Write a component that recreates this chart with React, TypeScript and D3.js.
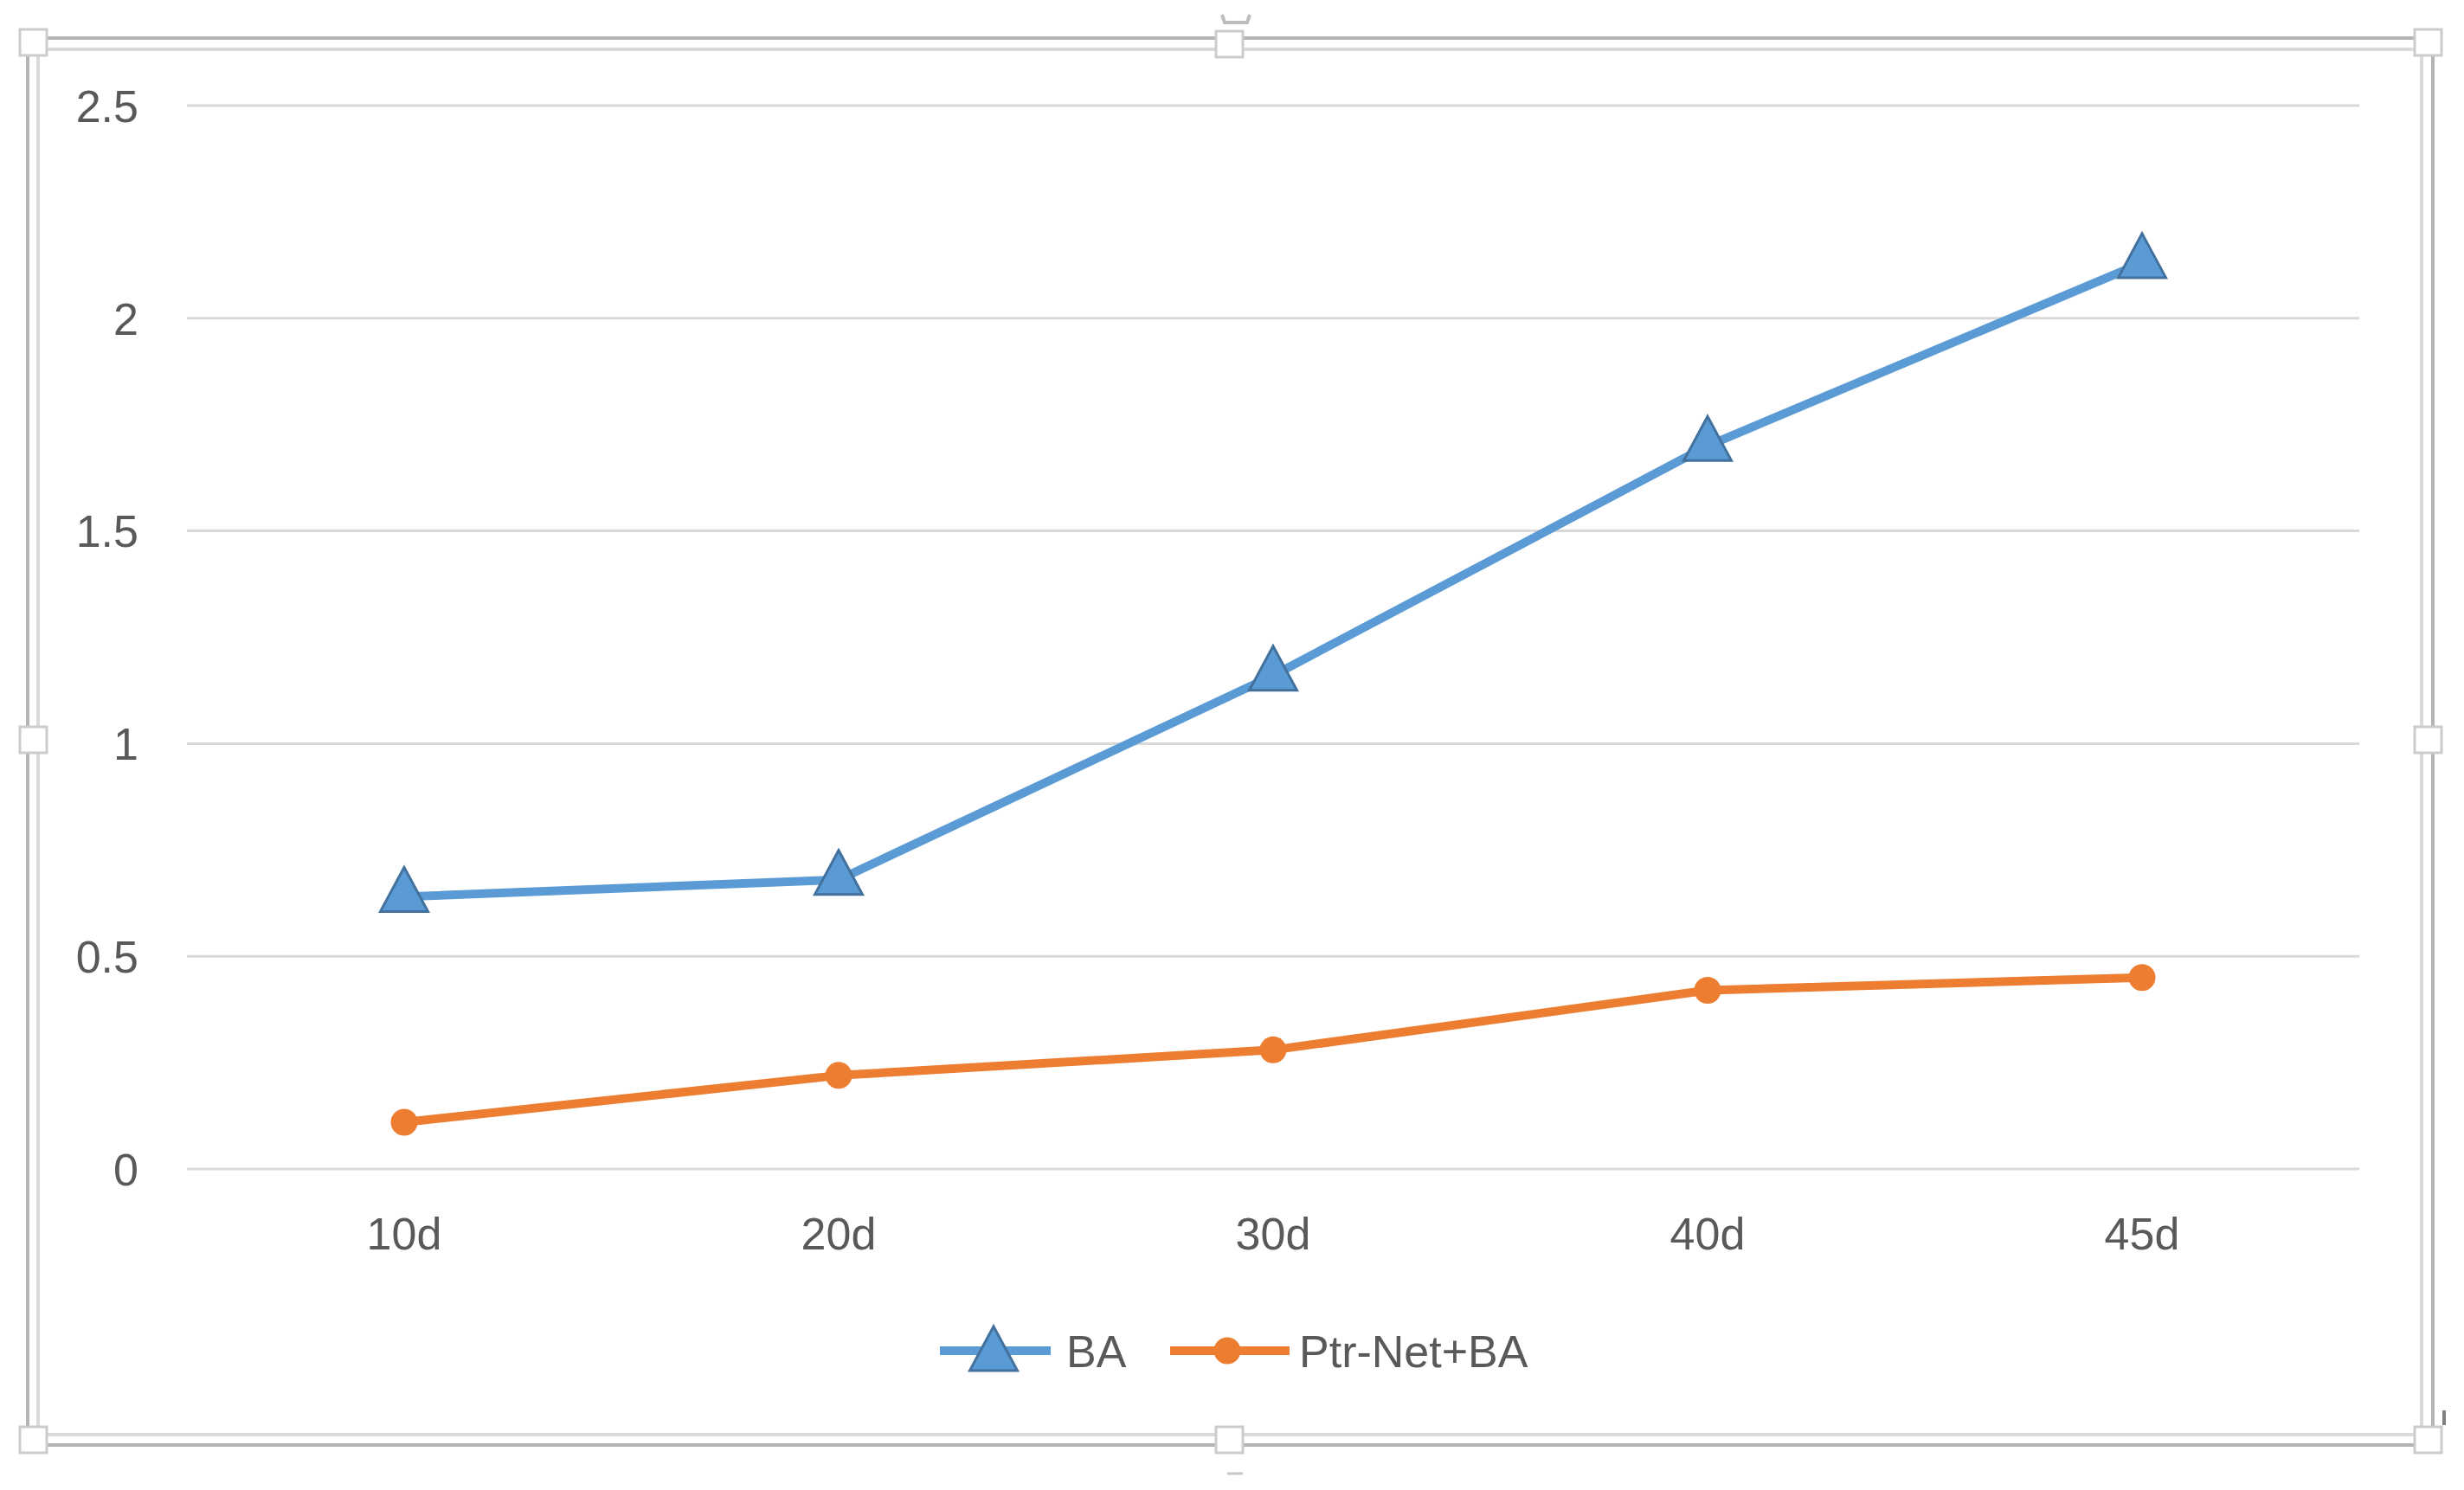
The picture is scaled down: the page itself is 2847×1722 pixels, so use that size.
import React from "react";
import * as d3 from "d3";

const categories = ["10d", "20d", "30d", "40d", "45d"];
const baValues = [0.64, 0.68, 1.16, 1.7, 2.13];
const ptrValues = [0.11, 0.22, 0.28, 0.42, 0.45];
const yTicks = [0, 0.5, 1, 1.5, 2, 2.5];
const seriesNames = ["BA", "Ptr-Net+BA"];

const W = 2847;
const H = 1722;
const FONT = "'Liberation Sans', Arial, sans-serif";
const TEXT = "#595959";
const BLUE = "#5B9BD5";
const BLUE_DARK = "#41719C";
const ORANGE = "#ED7D31";

function triPath(cx: number, cy: number) {
  return `M${cx},${cy - 34}L${cx + 27.5},${cy + 17}L${cx - 27.5},${cy + 17}Z`;
}

export default function App() {
  const x = d3.scalePoint<string>().domain(categories).range([216, 2726]).padding(0.5);
  const y = d3.scaleLinear().domain([0, 2.5]).range([1351, 122]);
  const line = d3
    .line<number>()
    .x((_, i) => x(categories[i]) as number)
    .y((d) => y(d));

  const handles = [
    [38, 49], [1420, 51], [2805, 49],
    [38, 855], [2805, 855],
    [38, 1664], [1420, 1664], [2805, 1664],
  ];

  const legY = 1561;

  return (
    <svg
      width={W}
      height={H}
      style={{ position: "absolute", left: 0, top: 0, background: "#fff" }}
      fontFamily={FONT}
    >
      <rect x={0} y={0} width={W} height={H} fill="#fff" />
      <rect x={32} y={44} width={2779} height={1626} fill="none" stroke="#B4B4B4" strokeWidth={4} />
      <rect x={44} y={57} width={2754} height={1601} fill="none" stroke="#D9D9D9" strokeWidth={4} />
      {handles.map(([hx, hy], i) => (
        <rect key={i} x={hx - 15} y={hy - 15} width={31} height={30} fill="#fff" stroke="#CCCCCC" strokeWidth={3} />
      ))}
      <path d="M1412,17 L1415,26 L1441,26 L1444,17" fill="none" stroke="#BDBDBD" strokeWidth={4} />
      <line x1={1418} x2={1436} y1={1703} y2={1703} stroke="#C8C8C8" strokeWidth={3} />
      <rect x={2822} y={1630} width={4} height={17} fill="#808080" />

      {yTicks.map((t) => (
        <line key={t} x1={216} x2={2726} y1={y(t)} y2={y(t)} stroke="#D9D9D9" strokeWidth={3} />
      ))}
      {yTicks.map((t) => (
        <text key={"l" + t} x={160} y={y(t)} dy="0.36em" textAnchor="end" fontSize={52} fill={TEXT}>
          {String(t)}
        </text>
      ))}
      {categories.map((c) => (
        <text key={c} x={x(c)} y={1444} textAnchor="middle" fontSize={52} fill={TEXT}>
          {c}
        </text>
      ))}

      <path d={line(ptrValues) as string} fill="none" stroke={ORANGE} strokeWidth={10} strokeLinejoin="round" />
      {ptrValues.map((v, i) => (
        <circle key={i} cx={x(categories[i])} cy={y(v)} r={15.5} fill={ORANGE} />
      ))}
      <path d={line(baValues) as string} fill="none" stroke={BLUE} strokeWidth={10} strokeLinejoin="round" />
      {baValues.map((v, i) => (
        <path key={i} d={triPath(x(categories[i]) as number, y(v))} fill={BLUE} stroke={BLUE_DARK} strokeWidth={3} />
      ))}

      <line x1={1086} x2={1214} y1={legY} y2={legY} stroke={BLUE} strokeWidth={10} />
      <path d={triPath(1148, legY + 6)} fill={BLUE} stroke={BLUE_DARK} strokeWidth={3} />
      <text x={1232} y={legY} dy="0.36em" fontSize={52} fill={TEXT}>{seriesNames[0]}</text>
      <line x1={1352} x2={1490} y1={legY} y2={legY} stroke={ORANGE} strokeWidth={10} />
      <circle cx={1418} cy={legY} r={15.5} fill={ORANGE} />
      <text x={1501} y={legY} dy="0.36em" fontSize={52} fill={TEXT}>{seriesNames[1]}</text>
    </svg>
  );
}
